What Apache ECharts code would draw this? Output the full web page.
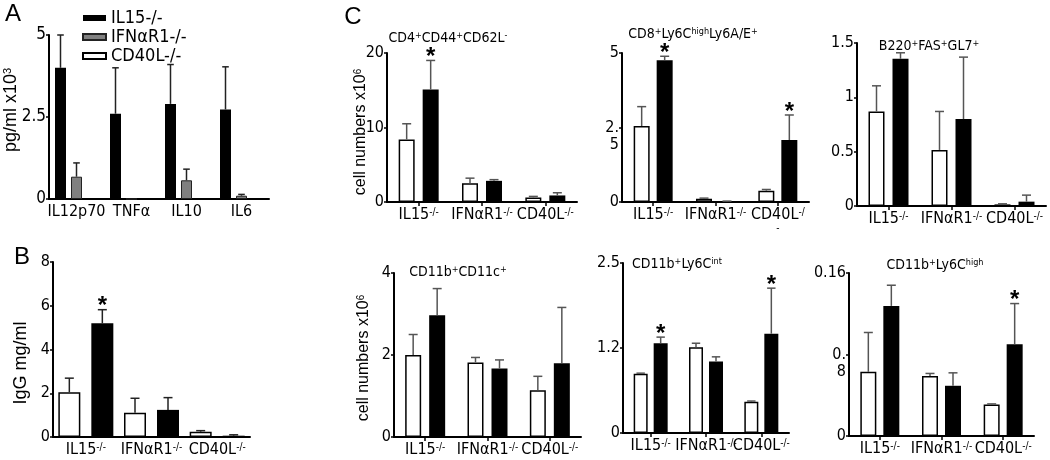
<!DOCTYPE html>
<html><head><meta charset="utf-8">
<script src="https://cdn.jsdelivr.net/npm/echarts@6/dist/echarts.min.js"></script>
<style>html,body{margin:0;padding:0;background:#fff}#c{width:1050px;height:460px}</style>
</head><body><div id="c"></div>
<script>
// ================= DATA =================
// Panel A: cytokines (pg/ml x10^3)
const cytokines = ['IL12p70', 'TNFα', 'IL10', 'IL6'];
const legendNames = ['IL15-/-', 'IFNαR1-/-', 'CD40L-/-'];
const aIL15 = [4.0, 2.6, 2.9, 2.73];
const aIL15Err = [5.0, 4.0, 4.1, 4.03];
const aIFN = [0.68, 0, 0.57, 0.1];
const aIFNErr = [1.1, null, 0.91, 0.14];
const aCD40L = [0, 0, 0, 0];
const aCD40LErr = [null, null, null, null];
const aTicks = ['0', '2.5', '5'];

// Genotype categories (B and C)
const genotypes = ['IL15[-/-]', 'IFNαR1[-/-]', 'CD40L[-/-]'];
const genotypesCD8 = ['IL15[-/-]', 'IFNαR1[-/-]', 'CD40L[-/]\n[-]'];

// Panel B: IgG mg/ml
const bWhite = [2.05, 1.11, 0.24];
const bWhiteErr = [2.69, 1.77, 0.29];
const bBlack = [5.2, 1.24, 0.06];
const bBlackErr = [5.82, 1.8, 0.1];
const bStars = [1, 0, 0];
const bTicks = ['0', '2', '4', '6', '8'];

// Panel C titles
const cTitles = ['CD4[+]CD44[+]CD62L[-]', 'CD8[+]Ly6C[high]Ly6A/E[+]', 'B220[+]FAS[+]GL7[+]',
                 'CD11b[+]CD11c[+]', 'CD11b[+]Ly6C[int]', 'CD11b[+]Ly6C[high]'];

// C1 CD4+CD44+CD62L-
const cd4White = [8.4, 2.53, 0.62];
const cd4WhiteErr = [10.5, 3.2, 0.75];
const cd4Black = [15.1, 2.84, 0.88];
const cd4BlackErr = [19.0, 3.0, 1.24];
const cd4Stars = [1, 0, 0];
const cd4Ticks = ['0', '10', '20'];

// C2 CD8+Ly6ChighLy6A/E+
const cd8White = [2.55, 0.11, 0.38];
const cd8WhiteErr = [3.2, 0.13, 0.42];
const cd8Black = [4.76, 0.02, 2.08];
const cd8BlackErr = [4.89, 0.03, 2.92];
const cd8Stars = [1, 0, 1];
const cd8Ticks = ['0', '2.\n5', '5'];

// C3 B220+FAS+GL7+
const b220White = [0.87, 0.516, 0.015];
const b220WhiteErr = [1.106, 0.87, 0.02];
const b220Black = [1.355, 0.80, 0.04];
const b220BlackErr = [1.41, 1.37, 0.1];
const b220Ticks = ['0', '0.5', '1', '1.5'];

// C4 CD11b+CD11c+
const cd11cWhite = [2.0, 1.82, 1.14];
const cd11cWhiteErr = [2.5, 1.94, 1.48];
const cd11cBlack = [2.97, 1.67, 1.8];
const cd11cBlackErr = [3.62, 1.88, 3.16];
const cd11cTicks = ['0', '2', '4'];

// C5 CD11b+Ly6Cint
const intWhite = [0.87, 1.26, 0.46];
const intWhiteErr = [0.88, 1.32, 0.47];
const intBlack = [1.32, 1.05, 1.46];
const intBlackErr = [1.41, 1.12, 2.13];
const intStars = [1, 0, 1];
const intTicks = ['0', '1.2', '2.5'];

// C6 CD11b+Ly6Chigh
const highWhite = [0.063, 0.0588, 0.031];
const highWhiteErr = [0.1016, 0.0614, 0.0315];
const highBlack = [0.1277, 0.0493, 0.090];
const highBlackErr = [0.148, 0.062, 0.130];
const highStars = [0, 0, 1];
const highTicks = ['0', '0.\n8', '0.16'];

// ================= STYLE / LAYOUT =================
const NARROW = '"Liberation Sans Narrow", "Arial Narrow", "DejaVu Sans Condensed", "Liberation Sans", sans-serif';
const REG = '"Liberation Sans", Arial, sans-serif';

function rt(s) {
  // convert "CD4[+]CD44" markup into ECharts rich text
  return s.split('\n').map(line => ('{n|' + line.replace(/\[([^\]]*)\]/g, '}{s|$1}{n|') + '}').replace(/\{n\|\}/g, '')).join('\n');
}
function richStyle(fs, sfs, family) {
  return {
    n: { fontSize: fs, fontFamily: family, color: '#000' },
    s: { fontSize: sfs, fontFamily: family, color: '#000', verticalAlign: 'top' }
  };
}

const KIND = {
  black: { color: '#000' },
  gray: { color: '#808080', borderColor: '#222', borderWidth: 1 },
  white: { color: '#fff', borderColor: '#000', borderWidth: 1.5 }
};

function two(w, wErr, b, bErr, stars) {
  return [
    { name: 'open', data: w, err: wErr, kind: 'white' },
    { name: 'filled', data: b, err: bErr, kind: 'black', stars: stars }
  ];
}

const panels = [
  { grid: { left: 49, top: 35, width: 220, height: 164 }, cats: cytokines, yMax: 5, interval: 2.5, ticks: aTicks,
    bars: [{ name: legendNames[0], data: aIL15, err: aIL15Err, kind: 'black' },
           { name: legendNames[1], data: aIFN, err: aIFNErr, kind: 'gray' },
           { name: legendNames[2], data: aCD40L, err: aCD40LErr, kind: 'white' }],
    barW: 11, gap: 5, catFont: 16, yFont: 17, xTicks: false, errColor: '#222' },
  { grid: { left: 53, top: 262, width: 197, height: 175 }, cats: genotypes, yMax: 8, interval: 2, ticks: bTicks,
    bars: two(bWhite, bWhiteErr, bBlack, bBlackErr, bStars),
    barW: 22, gap: 11, catFont: 16, yFont: 16, xTicks: false, errColor: '#222' },
  { grid: { left: 387, top: 53, width: 190, height: 149 }, cats: genotypes, yMax: 20, interval: 10, ticks: cd4Ticks,
    bars: two(cd4White, cd4WhiteErr, cd4Black, cd4BlackErr, cd4Stars),
    barW: 16, gap: 8, catFont: 16, yFont: 16, xTicks: true, errColor: '#555' },
  { grid: { left: 622, top: 53, width: 187, height: 149 }, cats: genotypesCD8, yMax: 5, interval: 2.5, ticks: cd8Ticks,
    bars: two(cd8White, cd8WhiteErr, cd8Black, cd8BlackErr, cd8Stars),
    barW: 16, gap: 7, catFont: 16, yFont: 16, xTicks: true, errColor: '#555' },
  { grid: { left: 857, top: 43, width: 189, height: 163 }, cats: genotypes, yMax: 1.5, interval: 0.5, ticks: b220Ticks,
    bars: two(b220White, b220WhiteErr, b220Black, b220BlackErr, null),
    barW: 16, gap: 8, catFont: 16, yFont: 16, xTicks: true, errColor: '#555' },
  { grid: { left: 394, top: 273, width: 187, height: 164 }, cats: genotypes, yMax: 4, interval: 2, ticks: cd11cTicks,
    bars: two(cd11cWhite, cd11cWhiteErr, cd11cBlack, cd11cBlackErr, null),
    barW: 16, gap: 8, catFont: 16, yFont: 16, xTicks: true, errColor: '#555' },
  { grid: { left: 623, top: 263, width: 166, height: 170 }, cats: genotypes, yMax: 2.5, interval: 1.25, ticks: intTicks,
    bars: two(intWhite, intWhiteErr, intBlack, intBlackErr, intStars),
    barW: 14, gap: 6, catFont: 16, yFont: 16, xTicks: true, errColor: '#555' },
  { grid: { left: 849, top: 273, width: 185, height: 163 }, cats: genotypes, yMax: 0.16, interval: 0.08, ticks: highTicks,
    bars: two(highWhite, highWhiteErr, highBlack, highBlackErr, highStars),
    barW: 16, gap: 7, catFont: 16, yFont: 16, xTicks: true, errColor: '#555' }
];

const grids = [], xAxes = [], yAxes = [], series = [];
panels.forEach((p, i) => {
  grids.push(Object.assign({ containLabel: false }, p.grid));
  xAxes.push({
    gridIndex: i, type: 'category', data: p.cats,
    axisLine: { lineStyle: { color: '#000', width: 2 } },
    axisTick: { show: p.xTicks, alignWithLabel: true, length: 4, lineStyle: { color: '#000', width: 1.5 } },
    axisLabel: { interval: 0, margin: 5, color: '#000', fontFamily: NARROW, fontSize: p.catFont,
      formatter: v => rt(v), rich: richStyle(p.catFont, 10, NARROW) }
  });
  yAxes.push({
    gridIndex: i, type: 'value', min: 0, max: p.yMax, interval: p.interval,
    splitLine: { show: false },
    axisLine: { show: true, lineStyle: { color: '#000', width: 2 } },
    axisTick: { show: true, length: 3, lineStyle: { color: '#000', width: 1.5 } },
    axisLabel: { color: '#000', fontFamily: NARROW, fontSize: p.yFont, margin: 3, lineHeight: 17,
      showMinLabel: true, showMaxLabel: true,
      formatter: v => {
        const t = p.ticks[Math.round(v / p.interval)];
        // wrapped labels hang below their tick, as in the reference
        return t.indexOf('\n') >= 0 ? '\n' + t : t;
      } }
  });
  const n = p.bars.length;
  p.bars.forEach(b => {
    series.push({
      type: 'bar', name: b.name, xAxisIndex: i, yAxisIndex: i, data: b.data,
      barWidth: p.barW, barGap: (p.gap / p.barW * 100) + '%', silent: true,
      itemStyle: KIND[b.kind]
    });
  });
  const errData = [];
  p.bars.forEach((b, j) => b.data.forEach((v, k) => {
    if (b.err[k] != null) errData.push([k, v, b.err[k], j, (b.stars && b.stars[k]) ? 1 : 0]);
  }));
  series.push({
    type: 'custom', xAxisIndex: i, yAxisIndex: i, z: 5, silent: true, data: errData,
    encode: { x: 0, y: 2 },
    renderItem: function (params, api) {
      const k = api.value(0), v = api.value(1), e = api.value(2), j = api.value(3), star = api.value(4);
      const base = api.coord([k, v]);
      const top = api.coord([k, e]);
      const x = base[0] + (j - (n - 1) / 2) * (p.barW + p.gap);
      const cw = Math.min(p.barW * 0.6, 9);
      const st = { stroke: p.errColor, lineWidth: 1.5 };
      const children = [
        { type: 'line', shape: { x1: x, y1: base[1], x2: x, y2: top[1] }, style: st },
        { type: 'line', shape: { x1: x - cw / 2, y1: top[1], x2: x + cw / 2, y2: top[1] }, style: st }
      ];
      if (star) children.push({ type: 'text', x: x, y: top[1] - 3,
        style: { text: '*', fontSize: 24, fontWeight: 'bold', fontFamily: REG, fill: '#000', align: 'center', verticalAlign: 'middle' } });
      return { type: 'group', children: children };
    }
  });
});

const titlePos = [[448, 38], [693, 34], [929, 46], [458, 272], [677, 264], [935, 265]];
const graphics = [
  { type: 'text', x: 13, y: 14, style: { text: 'A', fontSize: 24, fontFamily: REG, fill: '#000', align: 'center', verticalAlign: 'middle' } },
  { type: 'text', x: 22, y: 257, style: { text: 'B', fontSize: 24, fontFamily: REG, fill: '#000', align: 'center', verticalAlign: 'middle' } },
  { type: 'text', x: 353, y: 17, style: { text: 'C', fontSize: 24, fontFamily: REG, fill: '#000', align: 'center', verticalAlign: 'middle' } },
  { type: 'text', x: 11, y: 110, rotation: Math.PI / 2,
    style: { text: rt('pg/ml x10[3]'), rich: richStyle(18, 11, REG), align: 'center', verticalAlign: 'middle' } },
  { type: 'text', x: 21, y: 363, rotation: Math.PI / 2,
    style: { text: 'IgG mg/ml', fontSize: 18, fontFamily: REG, fill: '#000', align: 'center', verticalAlign: 'middle' } },
  { type: 'text', x: 361, y: 132, rotation: Math.PI / 2,
    style: { text: rt('cell numbers x10[6]'), rich: richStyle(16, 10, REG), align: 'center', verticalAlign: 'middle' } },
  { type: 'text', x: 364, y: 358, rotation: Math.PI / 2,
    style: { text: rt('cell numbers x10[6]'), rich: richStyle(16, 10, REG), align: 'center', verticalAlign: 'middle' } }
];
cTitles.forEach((t, i) => graphics.push({ type: 'text', x: titlePos[i][0], y: titlePos[i][1],
  style: { text: rt(t), rich: richStyle(14, 9, NARROW), align: 'center', verticalAlign: 'middle' } }));

const chart = echarts.init(document.getElementById('c'), null, { renderer: 'canvas' });
chart.setOption({
  backgroundColor: '#fff',
  animation: false,
  grid: grids, xAxis: xAxes, yAxis: yAxes, series: series,
  legend: { data: legendNames, orient: 'vertical', left: 77, top: 4, itemWidth: 23, itemHeight: 6, itemGap: 1,
    icon: 'rect', selectedMode: false,
    textStyle: { fontSize: 18, fontFamily: NARROW, color: '#000', lineHeight: 18 } },
  graphic: graphics
});
</script></body></html>
